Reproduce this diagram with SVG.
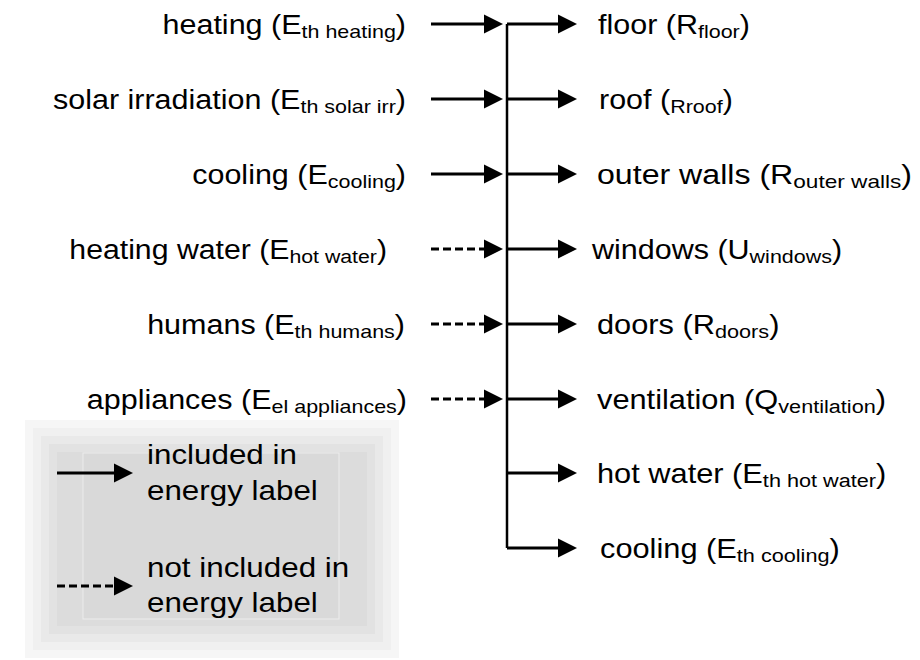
<svg xmlns="http://www.w3.org/2000/svg" width="920" height="660" viewBox="0 0 920 660">
<style>
.t{font-family:"Liberation Sans",Arial,sans-serif;font-size:27px;fill:#000}
.l{font-size:28px}
.s{font-size:19px}
.c{stroke:#000;stroke-width:3;fill:none}
.d{stroke-dasharray:8 4}
.v{stroke:#000;stroke-width:2.5;fill:none}
</style>
<defs>
<marker id="ah" markerUnits="userSpaceOnUse" viewBox="0 0 22 22" markerWidth="22" markerHeight="22" refX="4" refY="11" orient="auto"><path d="M0,1.5 L19,11 L0,20.5 Z" fill="#000"/></marker>
</defs>
<rect width="920" height="660" fill="#fff"/>
<g id="legend">
<rect x="25" y="420" width="374" height="238" fill="#f6f6f6"/>
<rect x="33" y="428" width="358" height="222" fill="#f0f0f0"/>
<rect x="41" y="436" width="342" height="206" fill="#e9e9e9"/>
<rect x="49" y="444" width="326" height="190" fill="#e2e2e2"/>
<rect x="57" y="452" width="310" height="174" fill="#dcdcdc"/>
<rect x="83" y="453" width="256" height="166" fill="#d9d9d9" stroke="#ececec" stroke-width="1"/>
<path class="c" d="M57,473 H118" marker-end="url(#ah)"/>
<path class="c d" d="M57,586 H118" marker-end="url(#ah)"/>
<text class="t l" transform="translate(147,464) scale(1.12,1)">included in</text>
<text class="t l" transform="translate(147,500) scale(1.12,1)">energy label</text>
<text class="t l" transform="translate(147,577) scale(1.12,1)">not included in</text>
<text class="t l" transform="translate(147,612) scale(1.12,1)">energy label</text>
</g>
<g id="connectors">
<path class="v" d="M507,24 V548"/>
<path class="c" d="M431,24 H488" marker-end="url(#ah)"/>
<path class="c" d="M431,99 H488" marker-end="url(#ah)"/>
<path class="c" d="M431,174 H488" marker-end="url(#ah)"/>
<path class="c d" d="M431,249 H488" marker-end="url(#ah)"/>
<path class="c d" d="M431,324 H488" marker-end="url(#ah)"/>
<path class="c d" d="M431,399 H488" marker-end="url(#ah)"/>
<path class="c" d="M507,24 H562" marker-end="url(#ah)"/>
<path class="c" d="M507,99 H562" marker-end="url(#ah)"/>
<path class="c" d="M507,174 H562" marker-end="url(#ah)"/>
<path class="c" d="M507,249 H562" marker-end="url(#ah)"/>
<path class="c" d="M507,324 H562" marker-end="url(#ah)"/>
<path class="c" d="M507,399 H562" marker-end="url(#ah)"/>
<path class="c" d="M507,473 H562" marker-end="url(#ah)"/>
<path class="c" d="M507,548 H562" marker-end="url(#ah)"/>
</g>
<g id="in-heating"><text class="t" text-anchor="end" transform="translate(406,34) scale(1.13,1)">heating (E<tspan class="s" dy="4">th heating</tspan><tspan dy="-4">)</tspan></text></g>
<g id="in-solar"><text class="t" text-anchor="end" transform="translate(406,109) scale(1.13,1)">solar irradiation (E<tspan class="s" dy="4">th solar irr</tspan><tspan dy="-4">)</tspan></text></g>
<g id="in-cooling"><text class="t" text-anchor="end" transform="translate(406,184) scale(1.13,1)">cooling (E<tspan class="s" dy="4">cooling</tspan><tspan dy="-4">)</tspan></text></g>
<g id="in-water"><text class="t" text-anchor="end" transform="translate(387,259) scale(1.12,1)">heating water (E<tspan class="s" dy="4">hot water</tspan><tspan dy="-4">)</tspan></text></g>
<g id="in-humans"><text class="t" text-anchor="end" transform="translate(405,334) scale(1.13,1)">humans (E<tspan class="s" dy="4">th humans</tspan><tspan dy="-4">)</tspan></text></g>
<g id="in-appliances"><text class="t" text-anchor="end" transform="translate(407,409) scale(1.13,1)">appliances (E<tspan class="s" dy="4">el appliances</tspan><tspan dy="-4">)</tspan></text></g>
<g id="out-floor"><text class="t" transform="translate(598,34) scale(1.13,1)">floor (R<tspan class="s" dy="4">floor</tspan><tspan dy="-4">)</tspan></text></g>
<g id="out-roof"><text class="t" transform="translate(599,109) scale(1.13,1)">roof (<tspan class="s" dy="4">Rroof</tspan><tspan dy="-4">)</tspan></text></g>
<g id="out-walls"><text class="t" transform="translate(597,184) scale(1.19,1)">outer walls (R<tspan class="s" dy="4">outer walls</tspan><tspan dy="-4">)</tspan></text></g>
<g id="out-windows"><text class="t" transform="translate(592,259) scale(1.13,1)">windows (U<tspan class="s" dy="4">windows</tspan><tspan dy="-4">)</tspan></text></g>
<g id="out-doors"><text class="t" transform="translate(597,334) scale(1.14,1)">doors (R<tspan class="s" dy="4">doors</tspan><tspan dy="-4">)</tspan></text></g>
<g id="out-ventilation"><text class="t" transform="translate(597,409) scale(1.14,1)">ventilation (Q<tspan class="s" dy="4">ventilation</tspan><tspan dy="-4">)</tspan></text></g>
<g id="out-hotwater"><text class="t" transform="translate(597,483) scale(1.14,1)">hot water (E<tspan class="s" dy="4">th hot water</tspan><tspan dy="-4">)</tspan></text></g>
<g id="out-cooling"><text class="t" transform="translate(600,558) scale(1.14,1)">cooling (E<tspan class="s" dy="4">th cooling</tspan><tspan dy="-4">)</tspan></text></g>
</svg>
